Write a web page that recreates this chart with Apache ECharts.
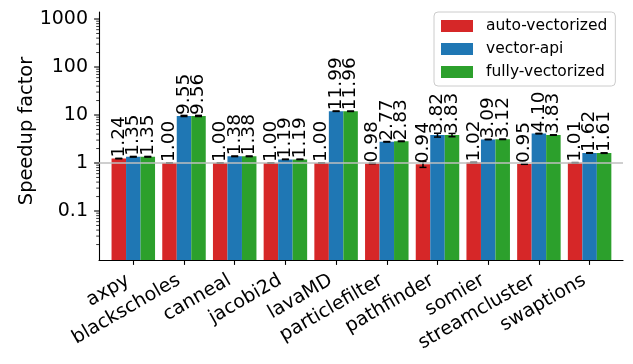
<!DOCTYPE html>
<html>
<head>
<meta charset="utf-8">
<script src="https://cdn.jsdelivr.net/npm/echarts@6/dist/echarts.min.js"></script>
<style>
  html, body { margin: 0; padding: 0; background: #ffffff; }
  #chart { width: 633px; height: 364px; }
</style>
</head>
<body>
<div id="chart"></div>
<script>
// Benchmarks on the x axis
const categories = ['axpy', 'blackscholes', 'canneal', 'jacobi2d', 'lavaMD',
  'particlefilter', 'pathfinder', 'somier', 'streamcluster', 'swaptions'];

// Mean speedup per variant
const autoVectorized  = [1.24, 1.00, 1.00, 1.00, 1.00, 0.98, 0.94, 1.02, 0.95, 1.01];
const vectorApi       = [1.35, 9.55, 1.38, 1.19, 11.99, 2.77, 3.82, 3.09, 4.10, 1.62];
const fullyVectorized = [1.35, 9.56, 1.38, 1.19, 11.96, 2.83, 3.83, 3.12, 3.83, 1.61];

// Standard deviation per variant (error bars)
const autoVectorizedErr  = [0.01, 0.01, 0.01, 0.01, 0.01, 0.01, 0.13, 0.01, 0.01, 0.01];
const vectorApiErr       = [0.02, 0.25, 0.02, 0.01, 0.10, 0.03, 0.35, 0.03, 0.05, 0.02];
const fullyVectorizedErr = [0.02, 0.25, 0.02, 0.01, 0.10, 0.03, 0.30, 0.03, 0.03, 0.02];

const seriesNames = ['auto-vectorized', 'vector-api', 'fully-vectorized'];
const seriesColors = ['#d62728', '#1f77b4', '#2ca02c'];

// Y axis ticks (log scale)
const majorTicks = [0.1, 1, 10, 100, 1000];
const minorMantissas = [2, 3, 4, 5, 6, 7, 8, 9];
const minorDecades = [0.01, 0.1, 1, 10, 100, 1000];

const Y_MIN = 0.00953;
const Y_MAX = 1400;
const FONT = '"DejaVu Sans", sans-serif';
const BAR_W = 14.5;

const tickData = [];
majorTicks.forEach(v => tickData.push([0, v, 1]));
minorDecades.forEach(d => minorMantissas.forEach(m => {
  const v = d * m;
  if (v > Y_MIN && v < Y_MAX) tickData.push([0, v, 0]);
}));

const values = [autoVectorized, vectorApi, fullyVectorized];
const errors = [autoVectorizedErr, vectorApiErr, fullyVectorizedErr];
const errData = [];
values.forEach((arr, s) => arr.forEach((v, i) => {
  errData.push([i, s, v - errors[s][i], v + errors[s][i]]);
}));

function fmtLog(v) {
  const lg = Math.log10(v);
  const e = Math.round(lg);
  if (Math.abs(lg - e) > 1e-6 || e < -1) return '';
  return e >= 0 ? String(Math.pow(10, e)) : Math.pow(10, e).toFixed(-e);
}

const chart = echarts.init(document.getElementById('chart'), null, { renderer: 'canvas' });

const barSeries = values.map((arr, s) => ({
  name: seriesNames[s],
  type: 'bar',
  xAxisIndex: 1,
  yAxisIndex: 1,
  data: arr,
  barWidth: BAR_W,
  barGap: '0%',
  z: 3,
  itemStyle: { color: seriesColors[s] },
  label: {
    show: true,
    position: 'top',
    distance: 1,
    rotate: 90,
    align: 'left',
    verticalAlign: 'middle',
    color: '#000',
    fontFamily: FONT,
    fontSize: 18.5,
    formatter: p => p.value.toFixed(2)
  }
}));

chart.setOption({
  animation: false,
  backgroundColor: '#ffffff',
  textStyle: { fontFamily: FONT },
  legend: {
    data: seriesNames,
    orient: 'vertical',
    left: 434,
    top: 12,
    padding: [6, 8, 6, 7],
    itemGap: 7,
    itemWidth: 32,
    itemHeight: 12,
    icon: 'rect',
    backgroundColor: 'rgba(255,255,255,0.8)',
    borderColor: '#cccccc',
    borderWidth: 1,
    borderRadius: 4,
    textStyle: { color: '#000', fontSize: 15.5, fontFamily: FONT, padding: [0, 0, 0, 8] }
  },
  grid: [
    { left: 99, right: 10, top: 12, bottom: 104, outerBoundsMode: 'none', containLabel: false },
    { left: 107.95, right: 18.05, top: 12, bottom: 104, outerBoundsMode: 'none', containLabel: false }
  ],
  xAxis: [
    {
      gridIndex: 0, type: 'value', min: 0, max: 1,
      axisLine: { show: true, lineStyle: { color: '#000', width: 1.1 } },
      axisTick: { show: false }, axisLabel: { show: false }, splitLine: { show: false }
    },
    {
      gridIndex: 1, type: 'category', data: categories,
      axisLine: { show: false },
      axisTick: { show: true, alignWithLabel: true, length: 4.9, lineStyle: { color: '#000', width: 1.1 } },
      axisLabel: {
        rotate: 30, interval: 0, color: '#000', fontFamily: FONT, fontSize: 19,
        margin: 16, padding: [0, 6, 0, 0]
      },
      splitLine: { show: false }
    }
  ],
  yAxis: [
    {
      gridIndex: 0, type: 'log', logBase: 10, min: Y_MIN, max: Y_MAX,
      name: 'Speedup factor', nameLocation: 'middle', nameGap: 63, nameMoveOverlap: false,
      nameTextStyle: { color: '#000', fontFamily: FONT, fontSize: 19.4, padding: [0, 0, 0, 10] },
      axisLine: { show: true, lineStyle: { color: '#000', width: 1.1 } },
      axisTick: { show: false },
      splitLine: { show: false },
      axisLabel: {
        color: '#000', fontFamily: FONT, fontSize: 19, margin: 11,
        showMinLabel: false, showMaxLabel: false, formatter: fmtLog
      }
    },
    {
      gridIndex: 1, type: 'log', logBase: 10, min: Y_MIN, max: Y_MAX, startValue: Y_MIN,
      show: false, splitLine: { show: false }
    }
  ],
  series: [
    {
      // y-axis tick marks, major and minor
      type: 'custom',
      xAxisIndex: 0,
      yAxisIndex: 0,
      silent: true,
      clip: false,
      z: 1,
      encode: { x: 0, y: 1 },
      data: tickData,
      renderItem: (params, api) => {
        const p = api.coord([0, api.value(1)]);
        const major = api.value(2) === 1;
        const len = major ? 4.9 : 2.8;
        return {
          type: 'line',
          shape: { x1: p[0] - len, y1: p[1], x2: p[0], y2: p[1] },
          style: { stroke: '#000', lineWidth: major ? 1.1 : 0.8 }
        };
      },
      markLine: {
        silent: true,
        symbol: ['none', 'none'],
        label: { show: false },
        lineStyle: { color: '#bfbfbf', width: 1.5, type: 'solid' },
        data: [{ yAxis: 1 }]
      }
    },
    ...barSeries,
    {
      // error bars with caps
      type: 'custom',
      xAxisIndex: 1,
      yAxisIndex: 1,
      silent: true,
      z: 4,
      encode: { x: 0, y: [2, 3] },
      data: errData,
      renderItem: (params, api) => {
        const i = api.value(0);
        const s = api.value(1);
        const lo = api.coord([i, api.value(2)]);
        const hi = api.coord([i, api.value(3)]);
        const x = lo[0] + (s - 1) * BAR_W;
        const cap = 3.5;
        const st = { stroke: '#000', lineWidth: 1.5 };
        return {
          type: 'group',
          children: [
            { type: 'line', shape: { x1: x, y1: lo[1], x2: x, y2: hi[1] }, style: st },
            { type: 'line', shape: { x1: x - cap, y1: lo[1], x2: x + cap, y2: lo[1] }, style: st },
            { type: 'line', shape: { x1: x - cap, y1: hi[1], x2: x + cap, y2: hi[1] }, style: st }
          ]
        };
      }
    }
  ]
});
</script>
</body>
</html>
